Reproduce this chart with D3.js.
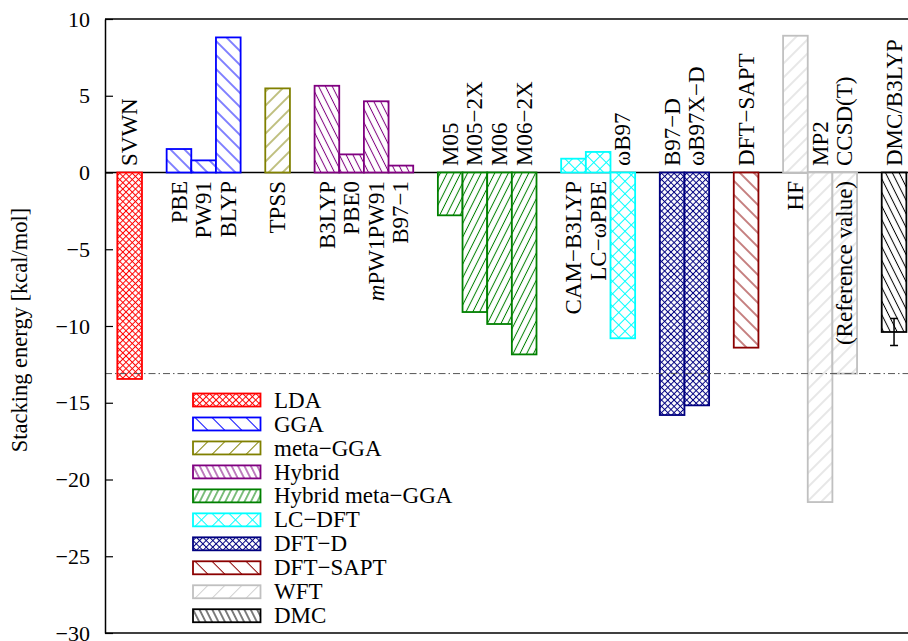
<!DOCTYPE html>
<html>
<head>
<meta charset="utf-8">
<script src="https://cdn.jsdelivr.net/npm/d3@7"></script>
<style>
  body { margin: 0; background: #fff; }
  svg { display: block; }
  text { font-family: "Liberation Serif", "Times New Roman", serif; fill: #000; }
</style>
</head>
<body>
<svg id="chart" width="908" height="641"></svg>
<script>
// Method families, their colours and hatch styles
const groups = ["LDA", "GGA", "meta−GGA", "Hybrid", "Hybrid meta−GGA", "LC−DFT", "DFT−D", "DFT−SAPT", "WFT", "DMC"];
const groupColors = ["#ff0000", "#0000ff", "#808000", "#800080", "#008000", "#00ffff", "#000080", "#8b0000", "#c0c0c0", "#000000"];
const groupHatch = ["crossDense", "backSparse", "fwdSparse", "backSteep", "fwdSteep", "crossSparse", "crossDense", "backSparse", "fwdSparse", "backSteep"];

// Methods, the family each belongs to, and stacking energies (kcal/mol)
const methods = ["SVWN", "PBE", "PW91", "BLYP", "TPSS", "B3LYP", "PBE0", "mPW1PW91", "B97−1",
  "M05", "M05−2X", "M06", "M06−2X", "CAM−B3LYP", "LC−ωPBE", "ωB97", "B97−D", "ωB97X−D",
  "DFT−SAPT", "HF", "MP2", "CCSD(T)", "DMC/B3LYP"];
const methodGroup = [0, 1, 1, 1, 2, 3, 3, 3, 3, 4, 4, 4, 4, 5, 5, 5, 6, 6, 7, 8, 8, 8, 9];
const energies = [-13.45, 1.53, 0.79, 8.80, 5.48, 5.65, 1.18, 4.64, 0.45,
  -2.79, -9.09, -9.87, -11.85, 0.90, 1.34, -10.80, -15.80, -15.17,
  -11.41, 8.91, -21.47, -13.10, -10.39];
const energyErrors = [0, 0, 0, 0, 0, 0, 0, 0, 0, 0, 0, 0, 0, 0, 0, 0, 0, 0, 0, 0, 0, 0, 0.88];
const referenceMethod = "CCSD(T)";
const referenceNote = "(Reference value)";

const yTicks = [10, 5, 0, -5, -10, -15, -20, -25, -30];
const yTitle = "Stacking energy [kcal/mol]";

const svg = d3.select("#chart");
const plot = { left: 105, right: 918.7, top: 19, bottom: 633 };
const FONT = 23;

// Histogram slots: members of a family sit side by side, one empty slot between families
const slots = [];
groups.forEach((g, gi) => {
  if (gi > 0) slots.push("gap" + gi);
  methods.forEach((m, mi) => { if (methodGroup[mi] === gi) slots.push(m); });
});

const x = d3.scaleBand().domain(slots).range([plot.left, plot.right]).paddingInner(0).paddingOuter(0.5);
const y = d3.scaleLinear().domain([-30, 10]).range([plot.bottom, plot.top]);

// Hatch patterns
const defs = svg.append("defs");
function hatch(id, kind, color, period) {
  const rad = Math.PI / 180;
  let angle, p, cross = false;
  if (kind === "fwdSparse") { angle = 45; p = period * Math.cos(45 * rad); }
  if (kind === "backSparse") { angle = -45; p = period * Math.cos(45 * rad); }
  if (kind === "fwdSteep") { angle = 26.6; p = period * Math.cos(26.6 * rad); }
  if (kind === "backSteep") { angle = -26.6; p = period * Math.cos(26.6 * rad); }
  if (kind === "crossDense" || kind === "crossSparse") { angle = 45; p = period * Math.cos(45 * rad); cross = true; }
  const pat = defs.append("pattern")
    .attr("id", id)
    .attr("patternUnits", "userSpaceOnUse")
    .attr("width", p).attr("height", p)
    .attr("patternTransform", `rotate(${angle})`);
  pat.append("rect").attr("width", p).attr("height", p).attr("fill", "#fff");
  const lc = color === "#c0c0c0" ? "#cfcfcf" : color;
  pat.append("line").attr("x1", p / 2).attr("x2", p / 2).attr("y1", -1).attr("y2", p + 1)
    .attr("stroke", lc).attr("stroke-width", 1);
  if (cross) {
    pat.append("line").attr("y1", p / 2).attr("y2", p / 2).attr("x1", -1).attr("x2", p + 1)
      .attr("stroke", lc).attr("stroke-width", 1);
  }
}
const barPeriod = { crossDense: 6.3, crossSparse: 12.5, fwdSparse: 14, backSparse: 14, fwdSteep: 6.8, backSteep: 6.8 };
const keyPeriod = { crossDense: 6.6, crossSparse: 17, fwdSparse: 17, backSparse: 17, fwdSteep: 6.4, backSteep: 6.4 };
groups.forEach((g, gi) => {
  hatch("bar" + gi, groupHatch[gi], groupColors[gi], barPeriod[groupHatch[gi]]);
  hatch("key" + gi, groupHatch[gi], groupColors[gi], keyPeriod[groupHatch[gi]]);
});

// Frame (top and bottom edges) and zero line
const frame = svg.append("g").attr("stroke", "#000").attr("stroke-width", 1.5);
frame.append("line").attr("x1", plot.left).attr("x2", plot.right).attr("y1", y(10)).attr("y2", y(10));
frame.append("line").attr("x1", plot.left).attr("x2", plot.right).attr("y1", y(-30)).attr("y2", y(-30));
frame.append("line").attr("x1", plot.left).attr("x2", plot.right).attr("y1", y(0)).attr("y2", y(0));

// Bars
const data = methods.map((m, i) => ({ m, v: energies[i], g: methodGroup[i], e: energyErrors[i] }));
svg.append("g").selectAll("rect").data(data).join("rect")
  .attr("x", d => x(d.m))
  .attr("width", x.bandwidth())
  .attr("y", d => Math.min(y(d.v), y(0)))
  .attr("height", d => Math.abs(y(d.v) - y(0)))
  .attr("fill", d => `url(#bar${d.g})`)
  .attr("stroke", d => groupColors[d.g])
  .attr("stroke-width", 1.8);

// Error bars
const eb = svg.append("g").attr("stroke", "#000").attr("stroke-width", 1.5);
data.filter(d => d.e > 0).forEach(d => {
  const cx = x(d.m) + x.bandwidth() / 2;
  eb.append("line").attr("x1", cx).attr("x2", cx).attr("y1", y(d.v + d.e)).attr("y2", y(d.v - d.e));
  [d.v + d.e, d.v - d.e].forEach(v => {
    eb.append("line").attr("x1", cx - 4).attr("x2", cx + 4).attr("y1", y(v)).attr("y2", y(v));
  });
});

// Reference level (CCSD(T))
const refValue = energies[methods.indexOf(referenceMethod)];
svg.append("line")
  .attr("x1", plot.left).attr("x2", plot.right)
  .attr("y1", y(refValue)).attr("y2", y(refValue))
  .attr("stroke", "#555").attr("stroke-width", 1)
  .attr("stroke-dasharray", "7,3,1.5,3");

// Method labels: above the zero line for negative bars, below it for positive ones
const labels = svg.append("g").attr("font-size", FONT);
function addLabel(name, text, below) {
  const cx = x(name) + x.bandwidth() / 2;
  const yy = below ? y(0) + 8.5 : y(0) - 6.5;
  const t = labels.append("text")
    .attr("transform", `translate(${cx},${yy}) rotate(-90)`)
    .attr("dy", "0.33em")
    .attr("text-anchor", below ? "end" : "start");
  if (text === "mPW1PW91") {
    t.append("tspan").attr("font-style", "italic").text("m");
    t.append("tspan").text("PW1PW91");
  } else {
    t.text(text);
  }
}
data.forEach(d => addLabel(d.m, d.m, d.v > 0));
addLabel(referenceMethod, referenceNote, true);

// Y axis
const yAxis = d3.axisLeft(y).tickValues(yTicks).tickSizeInner(-8).tickSizeOuter(0).tickPadding(15);
const ax = svg.append("g").attr("transform", `translate(${plot.left},0)`).call(yAxis);
ax.select(".domain").attr("stroke", "#000").attr("stroke-width", 1.5);
ax.selectAll(".tick line").attr("stroke", "#000").attr("stroke-width", 1.2);
ax.selectAll(".tick text")
  .attr("font-family", "'Liberation Serif', 'Times New Roman', serif")
  .attr("font-size", 22)
  .attr("fill", "#000");

svg.append("text")
  .attr("transform", "translate(27,330) rotate(-90)")
  .attr("text-anchor", "middle")
  .attr("font-size", 22.5)
  .text(yTitle);

// Legend
const legend = svg.append("g").attr("transform", "translate(193,400)");
groups.forEach((g, gi) => {
  const row = legend.append("g").attr("transform", `translate(0,${gi * 23.97})`);
  row.append("rect")
    .attr("x", 0).attr("y", -6.5).attr("width", 67.5).attr("height", 13)
    .attr("fill", `url(#key${gi})`)
    .attr("stroke", groupColors[gi]).attr("stroke-width", 1.8);
  row.append("text").attr("x", 81).attr("dy", "0.33em").attr("font-size", FONT).text(g);
});
</script>
</body>
</html>
